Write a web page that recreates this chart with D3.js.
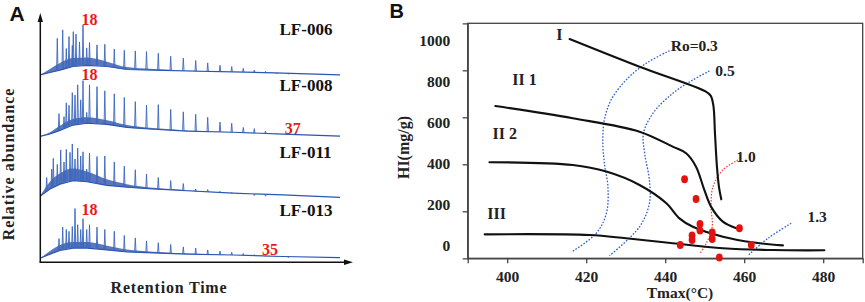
<!DOCTYPE html>
<html><head><meta charset="utf-8">
<script src="https://cdn.jsdelivr.net/npm/d3@7/dist/d3.min.js"></script>
<style>
html,body{margin:0;padding:0;background:#fff;}
svg{display:block;}
.serif{font-family:"Liberation Serif","Times New Roman",serif;font-weight:bold;}
</style></head>
<body><svg id="c" width="865" height="302"></svg>
<script>
// ---------- Panel A data ----------
const samples = ["LF-006", "LF-008", "LF-011", "LF-013"];
// retention time (min) of resolved peaks
const peakRt = [1.34, 2.34, 2.66, 3.0, 3.46, 3.8, 4.14, 4.54, 4.8, 5.26, 5.8, 6.0, 6.46, 6.66, 7.0, 7.2, 7.54, 7.9, 8.14, 8.6,
  9.34, 9.9, 11.4, 12.96, 14.86, 16.86, 19.06, 21.3, 23.66, 26.14, 28.66, 31.14, 33.54, 36.0, 38.34, 40.66, 42.86, 45.1, 47.34, 49.66];
// peak abundance (relative units)
const peaks006 = [0,0,0,0,62,0,0,76,0,45,65,0,50,73,0,69,0,56,0,84,46,55,51,52,44,42,41,40,37,32,29,25,21,17,15,12,9,7,3,2];
const peaks008 = [0,0,0,0,0,38,0,0,33,56,52,0,73,0,69,0,86,0,61,93,40,86,83,76,71,65,58,52,53,45,41,37,32,24,22,15,13,9,5,4];
const peaks011 = [33,47,65,0,55,0,79,0,59,80,0,75,89,0,64,0,82,0,69,76,47,74,68,69,59,52,46,39,33,28,23,14,13,10,8,6,3,2,0,0];
const peaks013 = [0,0,0,12,0,33,0,52,0,48,45,0,53,0,83,0,56,0,48,66,48,56,52,48,45,38,34,29,26,23,19,17,14,12,10,8,6,4,2,1];
// unresolved hump
const humpRt = [0, 2, 4, 6.6, 9.4, 13.4, 17.4, 22.6, 29.4, 38.6, 48.6, 60];
const hump006 = [1, 5, 9, 15, 17, 15, 10, 9, 7.5, 6, 4, 1];
const hump008 = [0, 4, 10, 19, 22, 20, 15, 12, 9, 7, 4, 0.5];
const hump011 = [2, 14, 22, 28, 26, 20, 17, 14, 11, 7, 4, 0];
const hump013 = [0, 7, 13, 17, 17, 14, 10.5, 9, 7, 5.5, 3, 1];
// dense minor-peak envelope above the hump
const noise006 = [0, 6, 12, 14, 13, 8, 4, 2, 1, 0, 0, 0];
const noise008 = [0, 3, 8, 10, 10, 7, 4, 2, 1, 0, 0, 0];
const noise011 = [0, 12, 18, 20, 17, 10, 5, 2, 1, 0, 0, 0];
const noise013 = [0, 5, 9, 10, 10, 7, 4, 2, 1, 0, 0, 0];
// carbon-number annotations: [sample index, peak index, label]
const peakMarks = [[0, 19, "18"], [1, 19, "18"], [3, 19, "18"], [1, 39, "37"], [3, 37, "35"]];

// ---------- Panel B data ----------
const tmaxTicks = [400, 420, 440, 460, 480];
const hiTicks = [0, 200, 400, 600, 800, 1000];
const typeI   = [[415.8,933],[433.5,815],[450.2,710],[451.5,692],[452.2,650],[452.6,532],[453.1,390],[453.6,305],[454.2,251]];
const typeII1 = [[397.0,648],[416.6,596],[433.5,539],[441.9,475],[445.3,447],[447.8,390],[449.9,291],[451.6,220],[454.6,156],[458.0,128]];
const typeII2 = [[395.5,409],[416.6,397],[425.1,369],[433.5,312],[440.3,234],[443.6,170],[447.0,134],[454.6,92],[463.0,66],[469.8,55]];
const typeIII = [[394.3,102],[420.8,99],[430.1,85],[441.9,64],[454.6,43],[467.2,35],[480.3,34]];
const ro03 = [[441.1,883],[435.2,830],[430.1,759],[426.3,674],[424.6,589],[424.2,503],[424.6,404],[425.5,305],[425.1,191],[422.5,106],[416.2,26]];
const ro05 = [[451.2,797],[447.0,759],[441.9,702],[436.9,617],[434.5,532],[434.8,447],[436.0,333],[436.0,234],[433.5,134],[425.9,11]];
const ro10 = [[458.4,418],[454.6,376],[452.1,305],[451.6,220],[451.9,134],[450.4,64],[448.7,18]];
const ro13 = [[471.9,149],[466.0,85],[460.9,11]];
const sampleTmax = [444.9, 447.8, 448.8, 448.8, 451.9, 451.9, 446.8, 446.8, 443.8, 458.8, 461.8, 453.7];
const sampleHI   = [336, 252, 146, 118, 110, 82, 97, 78, 57, 128, 57, 3];
const typeLabels = [["I", 413.2, 953], ["II 1", 404.4, 759], ["II 2", 399.4, 532], ["III", 397.3, 189]];
const roLabels = [["Ro=0.3", 441.4, 905], ["0.5", 452.7, 800], ["1.0", 458.0, 432], ["1.3", 476.0, 180]];

const SERIF = '"Liberation Serif","Times New Roman",serif';
const svg = d3.select("#c");
svg.append("rect").attr("width", 865).attr("height", 302).attr("fill", "#fff");

// ================= Panel A =================
const peakSets = [peaks006, peaks008, peaks011, peaks013];
const humps = [hump006, hump008, hump011, hump013];
const noises = [noise006, noise008, noise011, noise013];
const xA = d3.scaleLinear().domain([0, 62]).range([40, 350]);
const yBase = d3.scalePoint().domain(samples).range([75.5, 258.3]);
const abund = d3.scaleLinear().domain([0, 100]).range([0, 60]);
const labelDy = [-46, -51, -45, -48];

function humpAt(h, rt) {
  let i = d3.bisectRight(humpRt, rt) - 1;
  i = Math.max(0, Math.min(humpRt.length - 2, i));
  const t = (rt - humpRt[i]) / (humpRt[i + 1] - humpRt[i]);
  return h[i] + (h[i + 1] - h[i]) * t;
}

const gA = svg.append("g");
samples.forEach((s, si) => {
  const b = yBase(s);
  const h = humps[si], nz = noises[si];
  gA.append("path")
    .attr("d", d3.area().x((d, i) => xA(humpRt[i])).y0((d, i) => b - abund(h[i])).y1((d, i) => b - abund(h[i] + nz[i]))
      .curve(d3.curveMonotoneX)(h))
    .attr("fill", "#1c41a0").attr("fill-opacity", 0.72);
  gA.append("path")
    .attr("d", d3.line().x((d, i) => xA(humpRt[i])).y((d, i) => b - abund(d))(h))
    .attr("fill", "none").attr("stroke", "#2a55b0").attr("stroke-width", 1.2);
  let dstr = "";
  peakRt.forEach((rt, k) => {
    const v = peakSets[si][k];
    if (!v) return;
    const x = xA(rt), base = b - abund(humpAt(h, rt)), top = b - abund(v);
    dstr += `M${x - 0.7},${base}L${x},${top}L${x + 0.7},${base}`;
  });
  gA.append("path").attr("d", dstr).attr("fill", "none")
    .attr("stroke", "#3a66c0").attr("stroke-width", 0.9).attr("stroke-linejoin", "round");
  gA.append("text").attr("class", "serif").attr("x", 279.5).attr("y", b + labelDy[si])
    .attr("dominant-baseline", "central").attr("font-size", 17).attr("fill", "#111").text(s);
});
peakMarks.forEach(([si, k, lab]) => {
  const s = samples[si];
  const top = yBase(s) - abund(peakSets[si][k]);
  gA.append("text").attr("class", "serif")
    .attr("x", xA(peakRt[k]) + (lab === "18" ? 6.5 : 4.5))
    .attr("y", lab === "18" ? (si === 3 ? top - 9 : top - 6) : top - 6)
    .attr("text-anchor", "middle").attr("dominant-baseline", "central")
    .attr("font-size", 16).attr("fill", "#e8191b").text(lab);
});
gA.append("line").attr("x1", 40.3).attr("y1", 262.3).attr("x2", 40.3).attr("y2", 20).attr("stroke", "#111").attr("stroke-width", 1.5);
gA.append("line").attr("x1", 39.5).attr("y1", 262.3).attr("x2", 346).attr("y2", 262.3).attr("stroke", "#111").attr("stroke-width", 1.5);
gA.append("path").attr("d", "M37.6,22L43,22L40.3,13Z").attr("fill", "#111");
gA.append("path").attr("d", "M344,259.6L344,265L353,262.3Z").attr("fill", "#111");
gA.append("text").attr("class", "serif").attr("transform", "translate(8,164) rotate(-90)")
  .attr("text-anchor", "middle").attr("dominant-baseline", "central").attr("font-size", 16)
  .attr("letter-spacing", 1).attr("fill", "#222").text("Relative  abundance");
gA.append("text").attr("class", "serif").attr("x", 169).attr("y", 287.5)
  .attr("text-anchor", "middle").attr("dominant-baseline", "central").attr("font-size", 16)
  .attr("letter-spacing", 0.8).attr("fill", "#222").text("Retention Time");
svg.append("text").attr("x", 9.5).attr("y", 20.5).attr("font-family", "Liberation Sans, Arial, sans-serif")
  .attr("font-weight", "bold").attr("font-size", 21).attr("fill", "#111").text("A");

// ================= Panel B =================
const xB = d3.scaleLinear().domain([390, 490]).range([467.7, 862.7]);
const yB = d3.scaleLinear().domain([0, 1000]).range([258.3, 23.3]);
const yBLab = d3.scaleLinear().domain([0, 1000]).range([246, 41]);
const gB = svg.append("g");

gB.append("rect").attr("x", 467.7).attr("y", 23.3).attr("width", 395).attr("height", 235)
  .attr("fill", "none").attr("stroke", "#444").attr("stroke-width", 1.3);

const xAxis = gB.append("g").attr("transform", "translate(0,258.3)")
  .attr("font-family", SERIF).attr("font-weight", "bold").attr("font-size", 15.5)
  .call(d3.axisBottom(xB).tickValues(tmaxTicks).tickFormat(d3.format("d")).tickSize(5).tickPadding(8));
xAxis.attr("font-family", SERIF).attr("font-size", 15.5);
xAxis.select(".domain").attr("stroke", "#444").attr("stroke-width", 1.3);
xAxis.selectAll(".tick line").attr("stroke", "#444").attr("stroke-width", 1.3);
xAxis.selectAll("text").attr("fill", "#222");

const yTicks = gB.append("g").attr("transform", "translate(467.7,0)")
  .call(d3.axisLeft(yB).tickValues([200, 400, 600, 800]).tickSize(5).tickFormat(""));
yTicks.select(".domain").attr("stroke", "#444").attr("stroke-width", 1.3);
yTicks.selectAll(".tick line").attr("stroke", "#444").attr("stroke-width", 1.3);
const yLabs = gB.append("g").attr("transform", "translate(467.7,0)")
  .call(d3.axisLeft(yBLab).tickValues(hiTicks).tickFormat(d3.format("d")).tickSize(0).tickPadding(17.5));
yLabs.attr("font-family", SERIF).attr("font-weight", "bold").attr("font-size", 15.5);
yLabs.select(".domain").remove();
yLabs.selectAll("text").attr("fill", "#222");

gB.append("text").attr("class", "serif").attr("transform", "translate(403,147.5) rotate(-90)")
  .attr("text-anchor", "middle").attr("dominant-baseline", "central").attr("font-size", 16)
  .attr("fill", "#222").text("HI(mg/g)");
gB.append("text").attr("class", "serif").attr("x", 680).attr("y", 292.5)
  .attr("text-anchor", "middle").attr("dominant-baseline", "central").attr("font-size", 15.5)
  .attr("fill", "#222").text("Tmax(°C)");
svg.append("text").attr("x", 389.5).attr("y", 18).attr("font-family", "Liberation Sans, Arial, sans-serif")
  .attr("font-weight", "bold").attr("font-size", 20).attr("fill", "#111").text("B");

const lineB = d3.line().x(d => xB(d[0])).y(d => yB(d[1])).curve(d3.curveCatmullRom.alpha(0.5));
[ro03, ro05, ro13].forEach(c => gB.append("path").attr("d", lineB(c)).attr("fill", "none")
  .attr("stroke", "#2d5fcc").attr("stroke-width", 1.3).attr("stroke-dasharray", "1.6,1.6"));
gB.append("path").attr("d", lineB(ro10)).attr("fill", "none")
  .attr("stroke", "#ee3b33").attr("stroke-width", 1.2).attr("stroke-dasharray", "1.5,1.5");
[typeI, typeII1, typeII2, typeIII].forEach(c => gB.append("path").attr("d", lineB(c)).attr("fill", "none")
  .attr("stroke", "#111").attr("stroke-width", 2.1).attr("stroke-linecap", "round"));

typeLabels.forEach(([t, x, y]) => gB.append("text").attr("class", "serif")
  .attr("x", xB(x)).attr("y", yB(y)).attr("text-anchor", "middle").attr("dominant-baseline", "central")
  .attr("font-size", 16).attr("fill", "#222").text(t));
roLabels.forEach(([t, x, y]) => gB.append("text").attr("class", "serif")
  .attr("x", xB(x)).attr("y", yB(y)).attr("dominant-baseline", "central")
  .attr("font-size", 15.5).attr("fill", "#222").text(t));

gB.selectAll("ellipse.pt").data(sampleTmax).join("ellipse").attr("class", "pt")
  .attr("cx", d => xB(d)).attr("cy", (d, i) => yB(sampleHI[i]))
  .attr("rx", 3.4).attr("ry", 4).attr("fill", "#e3120f");
</script></body></html>
